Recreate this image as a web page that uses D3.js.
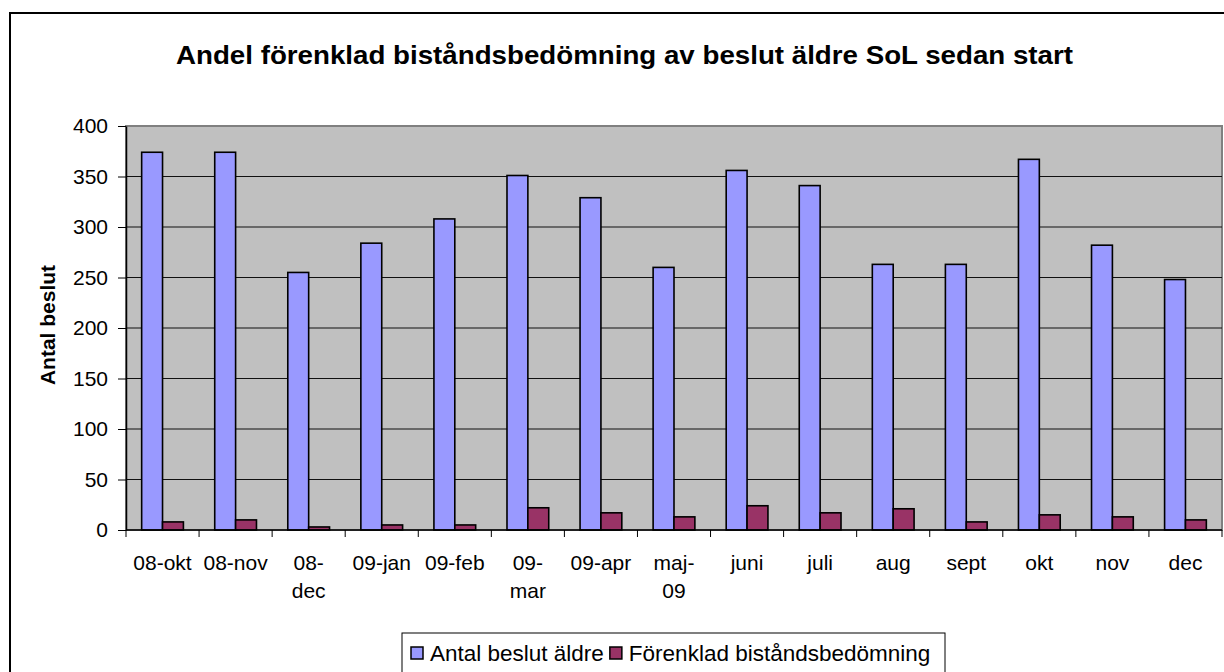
<!DOCTYPE html>
<html>
<head>
<meta charset="utf-8">
<script src="https://cdn.jsdelivr.net/npm/d3@7"></script>
<style>
  body { margin: 0; background: #fff; }
  svg { display: block; font-family: "Liberation Sans", Arial, sans-serif; }
</style>
</head>
<body>
<svg id="chart"></svg>
<script>
// chart data
const categories = ['08-okt', '08-nov', '08-dec', '09-jan', '09-feb', '09-mar', '09-apr', 'maj-09',
    'juni', 'juli', 'aug', 'sept', 'okt', 'nov', 'dec'];
// labels that Excel wrapped onto two lines
const tickLabels = ['08-okt', '08-nov', '08-|dec', '09-jan', '09-feb', '09-|mar', '09-apr', 'maj-|09',
    'juni', 'juli', 'aug', 'sept', 'okt', 'nov', 'dec'];
const seriesNames = ['Antal beslut äldre', 'Förenklad biståndsbedömning'];
const antalBeslut = [374, 374, 255, 284, 308, 351, 329, 260, 356, 341, 263, 263, 367, 282, 248];
const forenklad = [8, 10, 3, 5, 5, 22, 17, 13, 24, 17, 21, 8, 15, 13, 10];
const yTicks = [0, 50, 100, 150, 200, 250, 300, 350, 400];
const colors = ['#9999FF', '#993366'];

const W = 1224, H = 672;
const margin = {top: 126, right: 2, bottom: 142, left: 126};
const innerW = W - margin.left - margin.right;
const innerH = H - margin.top - margin.bottom;
const fontSize = '21px';

const svg = d3.select('#chart').attr('width', W).attr('height', H);

// outer chart frame (runs off the picture on the right and bottom)
svg.append('rect')
    .attr('x', 10).attr('y', 13)
    .attr('width', W + 20).attr('height', H + 20)
    .attr('fill', '#fff')
    .attr('stroke', '#000')
    .attr('stroke-width', 2);

svg.append('text')
    .attr('x', 176).attr('y', 64)
    .attr('textLength', 897)
    .attr('lengthAdjust', 'spacingAndGlyphs')
    .style('font-size', '26px')
    .style('font-weight', 'bold')
    .text('Andel förenklad biståndsbedömning av beslut äldre SoL sedan start');

const chart = svg.append('g')
    .attr('transform', `translate(${margin.left}, ${margin.top})`);

// scales
const x0 = d3.scaleBand()
    .domain(categories)
    .range([0, innerW]);

const x1 = d3.scaleBand()
    .domain(seriesNames)
    .range([0, x0.bandwidth()])
    .paddingInner(0)
    .paddingOuter(0.75);

const y = d3.scaleLinear()
    .domain([0, 400])
    .range([innerH, 0]);

// plot area
chart.append('rect')
    .attr('width', innerW).attr('height', innerH)
    .attr('fill', '#C0C0C0')
    .attr('stroke', '#808080')
    .attr('stroke-width', 2);

// gridlines
chart.append('g')
    .selectAll('line')
    .data(yTicks.filter(d => d > 0 && d < 400))
    .join('line')
    .attr('x1', 0).attr('x2', innerW)
    .attr('y1', d => y(d)).attr('y2', d => y(d))
    .attr('stroke', '#111')
    .attr('stroke-width', 1.2);

// bars
const rows = categories.map((c, i) => ({c: c, v: [antalBeslut[i], forenklad[i]]}));

const groups = chart.append('g')
    .selectAll('g')
    .data(rows)
    .join('g')
    .attr('transform', d => `translate(${x0(d.c)}, 0)`);

groups.selectAll('rect')
    .data(d => d.v.map((v, j) => ({name: seriesNames[j], v: v, j: j})))
    .join('rect')
    .attr('x', d => x1(d.name))
    .attr('y', d => y(d.v))
    .attr('width', x1.bandwidth())
    .attr('height', d => innerH - y(d.v))
    .attr('fill', d => colors[d.j])
    .attr('stroke', '#000')
    .attr('stroke-width', 1.6);

// y axis
const yaxis = d3.axisLeft(y)
    .tickValues(yTicks)
    .tickSize(8)
    .tickPadding(10)
    .tickSizeOuter(0);

const yg = chart.append('g').call(yaxis);
yg.select('.domain').attr('stroke', '#000').attr('stroke-width', 1.5);
yg.selectAll('.tick line').attr('stroke', '#000');
yg.selectAll('text')
    .style('font-size', fontSize)
    .attr('fill', '#000');

// x axis: ticks sit on category boundaries
const xaxis_group = chart.append('g')
    .attr('transform', `translate(0, ${innerH})`);

xaxis_group.append('line')
    .attr('x1', 0).attr('x2', innerW)
    .attr('stroke', '#000')
    .attr('stroke-width', 1.5);

xaxis_group.selectAll('.tick')
    .data(categories.concat(['end']))
    .join('line')
    .attr('class', 'tick')
    .attr('x1', (d, i) => i * x0.step())
    .attr('x2', (d, i) => i * x0.step())
    .attr('y1', 0).attr('y2', 7)
    .attr('stroke', '#000');

const labels = xaxis_group.selectAll('.lbl')
    .data(categories)
    .join('text')
    .attr('class', 'lbl')
    .attr('x', d => x0(d) + x0.bandwidth() / 2)
    .attr('y', 40)
    .attr('text-anchor', 'middle')
    .style('font-size', fontSize);

labels.each(function(d, i){
    const parts = tickLabels[i].split('|');
    d3.select(this).selectAll('tspan')
        .data(parts)
        .join('tspan')
        .attr('x', x0(d) + x0.bandwidth() / 2)
        .attr('dy', (p, k) => k === 0 ? 0 : 28)
        .text(p => p);
});

// y axis title
svg.append('text')
    .attr('transform', 'rotate(-90)')
    .attr('x', -325)
    .attr('y', 55)
    .attr('text-anchor', 'middle')
    .style('font-size', fontSize)
    .style('font-weight', 'bold')
    .text('Antal beslut');

// legend
const legend = svg.append('g');
legend.append('rect')
    .attr('x', 402).attr('y', 633)
    .attr('width', 543).attr('height', 60)
    .attr('fill', '#fff')
    .attr('stroke', '#000')
    .attr('stroke-width', 1);

let lx = 411;
seriesNames.forEach((name, i) => {
    legend.append('rect')
        .attr('x', lx).attr('y', 647)
        .attr('width', 12).attr('height', 12)
        .attr('fill', colors[i])
        .attr('stroke', '#000')
        .attr('stroke-width', 1.5);
    const t = legend.append('text')
        .attr('x', lx + 19).attr('y', 661)
        .style('font-size', '22.5px')
        .text(name);
    lx = lx + 19 + t.node().getComputedTextLength() + 6;
});
</script>
</body>
</html>
